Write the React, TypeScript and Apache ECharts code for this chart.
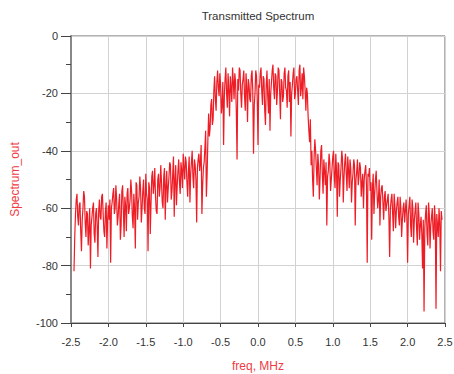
import React, { useEffect, useRef } from "react";
import * as echarts from "echarts";

// Frequency sampling step (MHz)
const FREQ_STEP = 0.01;

// Spectrum_out values (dB), each band starting at its own frequency
const lowerSkirtFarStart = -2.46;
const lowerSkirtFar = [
  -82, -70, -62, -57, -55, -63, -66, -59, -58, -68, -75, -64, -60, -54, -56, -65, -70, -61, -62, -73, -67, -60,
  -81, -66, -63, -60, -58, -69, -72, -62, -60, -66, -77, -61, -57, -63, -64, -56, -55, -62, -68, -70, -61, -58,
  -74, -64, -59,
];
const lowerSkirtNearStart = -1.99;
const lowerSkirtNear = [
  -64, -57, -79, -60, -58, -55, -53, -62, -60, -52, -57, -66, -63, -58, -55, -71, -66, -54, -52, -61, -70, -56,
  -59, -68, -55, -53, -62, -60, -57, -50, -54, -63, -67, -55, -60, -74, -51, -52, -64, -58, -56, -49, -53, -65,
  -60, -54, -50, -60, -62, -48, -55, -57, -75, -51, -53, -69, -58, -49, -47, -55, -52, -46, -56, -61, -62, -50,
  -48, -56, -53, -45, -51, -58, -60, -49, -46, -64, -52, -47, -58, -53, -49, -44, -45, -57, -54, -48, -42, -63,
  -50, -45, -59, -52, -47, -43, -51, -55, -44, -47, -53, -41,
];
const lowerShoulderStart = -0.99;
const lowerShoulder = [
  -46, -50, -42, -44, -51, -56, -47, -42, -58, -48, -44, -40, -49, -53, -43, -45, -50, -65, -46, -43, -41, -47,
  -44, -38, -62, -52, -46,
];
const mainLobeStart = -0.72;
const mainLobe = [
  -44, -39, -33, -56, -48, -36, -27, -35, -32, -24, -22, -31, -29, -19, -14, -22, -26, -16, -12, -18, -21, -13,
  -17, -27, -24, -16, -38, -21, -15, -11, -20, -25, -13, -19, -28, -14, -18, -23, -11, -16, -22, -13, -16, -26,
  -43, -15, -19, -11, -12, -20, -25, -17, -15, -12, -21, -26, -13, -18, -30, -15, -17, -22, -23, -14, -12, -19,
  -41, -24, -20, -12, -14, -22, -38, -17, -18, -13, -11, -19, -24, -14, -15, -26, -31, -17, -12, -21, -27, -15,
  -33, -20, -16, -12, -10, -18, -22, -13, -14, -24, -19, -11, -12, -20, -29, -15, -16, -23, -21, -13, -11, -18,
  -19, -25, -14, -12, -23, -16, -35, -20, -17, -13, -11, -22, -20, -15, -14, -19, -24, -12, -10, -21, -18, -13,
  -22, -11, -14, -19, -26, -18, -20, -28, -33, -37, -29, -45, -40,
];
const upperShoulderStart = 0.73;
const upperShoulder = [
  -50, -56, -42, -36, -40, -46, -52, -41, -45, -57, -49, -40, -38, -48, -55, -43, -47, -52, -44, -66, -49, -47,
  -41, -44, -54, -50, -46, -42, -40, -49, -53, -41, -47, -63, -44, -45, -56, -50, -46, -40, -43, -58, -49, -44,
  -41, -48, -54, -42, -47, -53, -43, -46, -58, -51, -48, -43, -45, -66, -50, -47, -43, -52, -49, -44, -46, -56,
  -51, -48, -60, -50, -47, -45, -52, -79, -48, -49, -46, -54,
];
const upperSkirtStart = 1.51;
const upperSkirt = [
  -51, -71, -53, -48, -62, -55, -50, -47, -54, -60, -57, -50, -66, -56, -53, -52, -58, -64, -56, -54, -61, -59,
  -57, -55, -63, -77, -60, -57, -55, -62, -68, -55, -59, -67, -61, -58, -56, -63, -66, -56, -60, -70, -64, -60,
  -58, -65, -61, -57, -63, -79, -62, -59, -56, -66, -70, -57, -60, -72, -64, -61, -58, -67, -73, -58, -62, -71,
  -66, -63, -69, -81, -64, -96, -67, -62, -59, -69, -73, -58, -62, -74, -66, -63, -60, -68, -71, -59, -64, -95,
  -62, -66, -70, -60, -65, -82, -61, -64,
];

const bands: [number, number[]][] = [
  [lowerSkirtFarStart, lowerSkirtFar],
  [lowerSkirtNearStart, lowerSkirtNear],
  [lowerShoulderStart, lowerShoulder],
  [mainLobeStart, mainLobe],
  [upperShoulderStart, upperShoulder],
  [upperSkirtStart, upperSkirt],
];

const yTicks = { min: -100, max: 0, interval: 20 };
const xTicks = { min: -2.5, max: 2.5, interval: 0.5 };

const TITLE = "Transmitted Spectrum";
const X_NAME = "freq, MHz";
const Y_NAME = "Spectrum_out";

export default function App() {
  const ref = useRef<HTMLDivElement>(null);

  useEffect(() => {
    if (!ref.current) return;
    const chart = echarts.init(ref.current, undefined, { renderer: "svg" });
    const data: number[][] = [];
    bands.forEach(([start, vals]) => {
      vals.forEach((v, i) => data.push([+(start + i * FREQ_STEP).toFixed(2), v]));
    });
    const font = "Liberation Sans";
    chart.setOption({
      animation: false,
      backgroundColor: "#ffffff",
      graphic: [
        {
          type: "text",
          x: 258,
          y: 16,
          style: {
            text: TITLE,
            align: "center",
            verticalAlign: "middle",
            fontFamily: font,
            fontSize: 11.5,
            fill: "#333",
          },
        },
      ],
      grid: {
        left: 71,
        right: 9,
        top: 36,
        bottom: 51,
        containLabel: false,
        outerBoundsMode: "none",
        show: true,
        borderColor: "#666",
        borderWidth: 1,
        backgroundColor: "transparent",
      },
      xAxis: {
        type: "value",
        min: xTicks.min,
        max: xTicks.max,
        interval: xTicks.interval,
        name: X_NAME,
        nameLocation: "middle",
        nameGap: 37,
        nameTextStyle: { color: "#ee3b44", fontFamily: font, fontSize: 12 },
        axisLine: { show: true, onZero: false, lineStyle: { color: "#444", width: 1 } },
        axisTick: { show: true, length: 4, lineStyle: { color: "#444" } },
        axisLabel: {
          color: "#333",
          fontFamily: font,
          fontSize: 11,
          margin: 13,
          showMinLabel: true,
          showMaxLabel: true,
          formatter: (v: number) => v.toFixed(1),
        },
        splitLine: { show: true, lineStyle: { color: "#d2d2d2", width: 1 } },
      },
      yAxis: {
        type: "value",
        min: yTicks.min,
        max: yTicks.max,
        interval: yTicks.interval,
        name: Y_NAME,
        nameLocation: "middle",
        nameGap: 50,
        nameTextStyle: { color: "#ee3b44", fontFamily: font, fontSize: 12 },
        axisLine: { show: true, onZero: false, lineStyle: { color: "#888", width: 2 } },
        axisTick: { show: true, length: 10, lineStyle: { color: "#444" } },
        minorTick: { show: true, splitNumber: 2, length: 5, lineStyle: { color: "#444" } },
        axisLabel: { color: "#333", fontFamily: font, fontSize: 11, margin: 13 },
        splitLine: { show: true, lineStyle: { color: "#d2d2d2", width: 1 } },
      },
      series: [
        {
          type: "line",
          data,
          showSymbol: false,
          symbol: "none",
          clip: true,
          lineStyle: { color: "#ee1c25", width: 1.2 },
          itemStyle: { color: "#ee1c25" },
        },
      ],
    });
    return () => chart.dispose();
  }, []);

  return (
    <div
      ref={ref}
      style={{ position: "fixed", left: 0, top: 0, width: 454, height: 374, background: "#fff" }}
    />
  );
}
